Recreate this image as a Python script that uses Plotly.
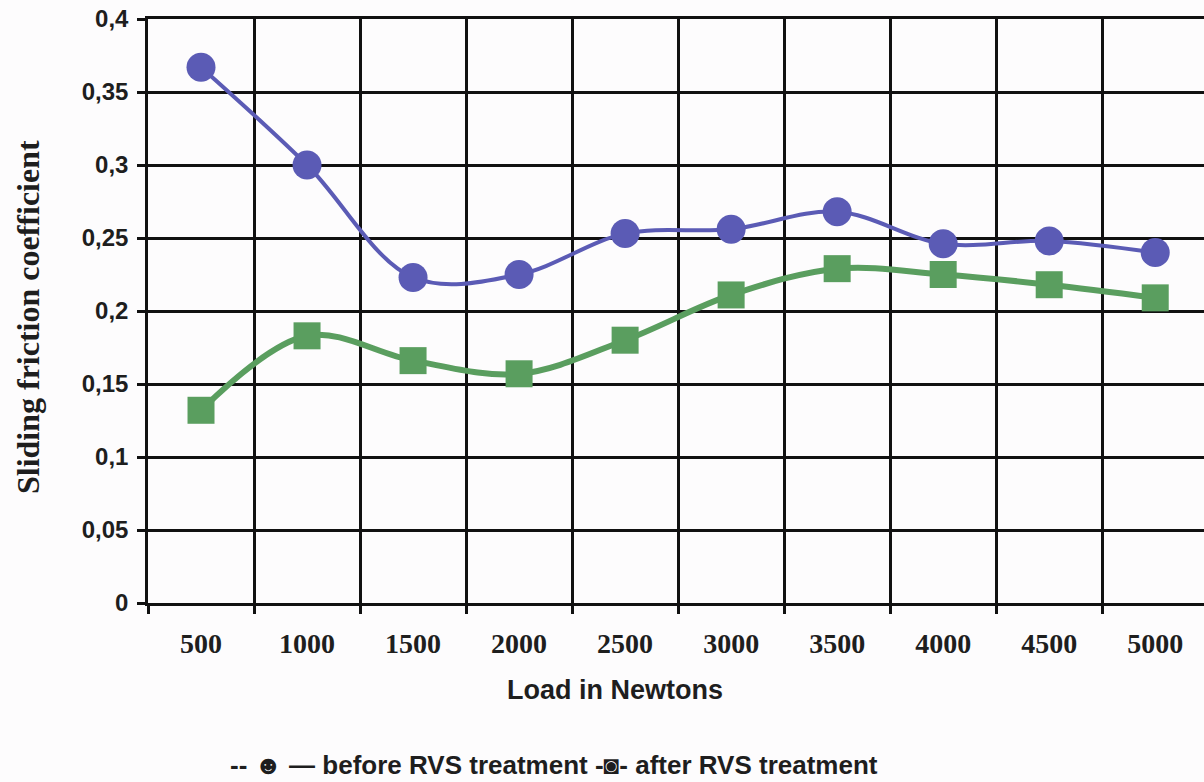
import plotly.graph_objects as go

loads = ["500", "1000", "1500", "2000", "2500", "3000", "3500", "4000", "4500", "5000"]
before_rvs = [0.367, 0.300, 0.223, 0.225, 0.253, 0.256, 0.268, 0.246, 0.248, 0.240]
after_rvs = [0.132, 0.183, 0.166, 0.157, 0.180, 0.211, 0.229, 0.225, 0.218, 0.209]
y_ticks = [0, 0.05, 0.1, 0.15, 0.2, 0.25, 0.3, 0.35, 0.4]
y_tick_text = ["0", "0,05", "0,1", "0,15", "0,2", "0,25", "0,3", "0,35", "0,4"]

BLUE = "#5b5bb5"
GREEN = "#5a9e5f"
TXT = "#1e1e1e"

fig = go.Figure()
fig.add_trace(go.Scatter(
    x=loads, y=before_rvs, mode="lines+markers", name="before RVS treatment",
    line=dict(color=BLUE, width=4, shape="spline", smoothing=1.0),
    marker=dict(symbol="circle", size=29, color=BLUE),
))
fig.add_trace(go.Scatter(
    x=loads, y=after_rvs, mode="lines+markers", name="after RVS treatment",
    line=dict(color=GREEN, width=6, shape="spline", smoothing=1.0),
    marker=dict(symbol="square", size=27, color=GREEN),
))

fig.update_layout(
    width=1204, height=782,
    margin=dict(l=148, r=0, t=19, b=179),
    paper_bgcolor="#fdfcfd", plot_bgcolor="#fdfcfd",
    showlegend=False,
    xaxis=dict(
        type="category", range=[-0.5, 9.46],
        tickson="boundaries", ticks="outside", ticklen=8, tickwidth=2.5, tickcolor="#111",
        showgrid=True, gridcolor="#111", gridwidth=2.5,
        showline=True, linecolor="#111", linewidth=2.5, mirror=True,
        tickfont=dict(family="Liberation Serif", size=28, color=TXT, weight="bold"),
        ticklabelstandoff=14,
    ),
    yaxis=dict(
        range=[0, 0.4], tickvals=y_ticks, ticktext=y_tick_text,
        ticks="outside", ticklen=8, tickwidth=2.5, tickcolor="#111",
        showgrid=True, gridcolor="#111", gridwidth=2.5, zeroline=False,
        showline=True, linecolor="#111", linewidth=2.5,
        tickfont=dict(family="Liberation Sans", size=24, color=TXT, weight="bold"),
        ticklabelstandoff=4,
    ),
    annotations=[
        dict(text="<b>Sliding friction coefficient</b>", xref="paper", yref="paper",
             x=-0.1136, y=0.4897, textangle=-90, showarrow=False,
             xanchor="center", yanchor="middle",
             font=dict(family="Liberation Serif", size=32, color=TXT)),
        dict(text="<b>Load in Newtons</b>", xref="paper", yref="paper",
             x=0.4422, y=-0.149, showarrow=False, xanchor="center", yanchor="middle",
             font=dict(family="Liberation Sans", size=27, color=TXT)),
        dict(text="<b>-- \u263b \u2014 before RVS treatment -\u25d9- after RVS treatment</b>",
             xref="paper", yref="paper", x=0.3845, y=-0.2774, showarrow=False,
             xanchor="center", yanchor="middle",
             font=dict(family="Liberation Sans", size=26, color=TXT)),
    ],
)

fig.write_html(
    "out.html",
    config={"displayModeBar": False},
    post_script="document.body.style.margin='0';document.body.style.overflow='hidden';",
)
